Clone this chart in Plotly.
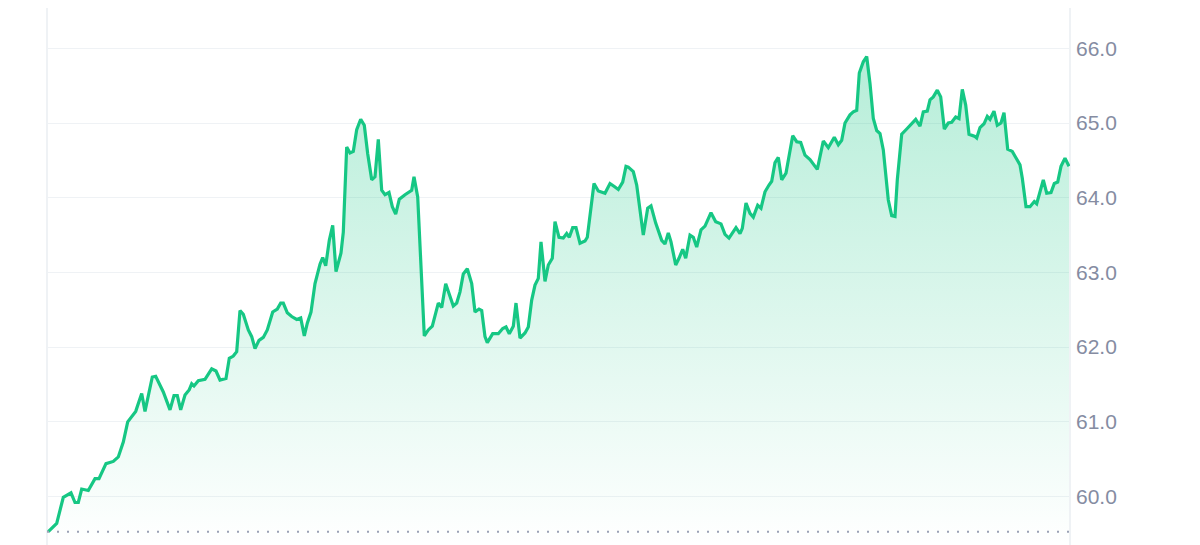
import plotly.graph_objects as go

# time position (sample-time units along the day) and price readings
t = [0.3, 8.7, 15.3, 23, 27, 30.3, 33.7, 40.3, 47, 51, 58, 65.3, 70.3, 75.3, 79.7, 83.7, 87.7, 93.7, 97,
     104.3, 107.7, 115.3, 122, 126, 129.3, 132.7, 137, 141.3, 143.7, 146,
     150.3, 157, 163.7, 168, 172, 178, 181.3, 185.3, 188.7, 192, 195.3, 200.3, 203.7, 207, 211, 215.3,
     219.3, 224.7, 229.3, 232.7, 235.3, 239.3, 243.7, 248.7, 252.7, 256.3, 259.3, 263, 267, 272, 274.7,
     277.7, 281.3, 284.7, 288, 293, 295.3, 298.7, 302, 305.3, 308.7, 312.7, 316.3, 319.7, 323.7, 327,
     330.3, 333.7, 337, 341, 344.3, 347.7, 351.3, 357, 361, 363.7, 366, 369.7, 376.3, 380.3, 384.3,
     390.3, 393.7, 397.7, 405.3, 408.7, 412, 415.3, 419.3, 423.7, 427, 431, 433.7, 437, 439.3, 444.7,
     450.3, 454.7, 458, 461.3, 465.3, 468, 472, 477, 480.3, 483.7, 487, 490.3, 493, 497, 500.3, 504.3,
     507, 511, 515.3, 518.7, 521.3, 524.7, 528, 532, 537, 539.3, 546, 550.3, 557, 562, 566.3, 570.3,
     574.7, 578, 580.3, 585.3, 588.7, 595.3, 599.7, 603, 607.7, 613.7, 617, 620.3, 623, 627.7, 631,
     634.7, 637.7, 642, 645.3, 648.7, 653, 657, 663, 667.7, 673, 677, 681, 688, 692, 694.3, 698, 702,
     705.3, 709.7, 713, 717, 721, 723.7, 727, 730.3, 733.7, 738, 744.7, 748.7, 752.7, 757, 762, 765.3,
     769.3, 775.3, 780.3, 786.3, 790.3, 793.7, 797, 802, 805.3, 808.7, 811.3, 815.3, 818.7, 822, 825.3,
     828.7, 832, 835.3, 840.3, 843.7, 847, 849.3, 853.7, 858.7, 863.7, 867.7, 872, 875.3, 879.3, 882,
     885.3, 889.3, 892.7, 896.3, 900.3, 903.7, 907.7, 911, 914.3, 917.7, 921, 927, 928.7, 932, 936,
     939.3, 942, 946, 949.3, 953, 956, 959.7, 964.3, 972, 974.3, 978, 982, 986.3, 988.7, 995.3, 998.7,
     1003, 1006.3, 1009.7, 1013, 1017, 1021]

price = [59.53, 59.64, 59.99, 60.05, 59.92, 59.92, 60.10, 60.08, 60.24, 60.24, 60.44, 60.47, 60.53, 60.73,
         61.00, 61.07, 61.14, 61.38, 61.14, 61.60, 61.61, 61.40, 61.16, 61.35, 61.35, 61.16, 61.36, 61.43,
         61.51, 61.48,
         61.55, 61.57, 61.71, 61.68, 61.56, 61.58, 61.85, 61.88, 61.94, 62.49, 62.44, 62.23, 62.14, 61.98,
         62.09, 62.13, 62.23, 62.47, 62.51, 62.59, 62.59, 62.46, 62.41, 62.37, 62.39, 62.15, 62.32, 62.47,
         62.85, 63.11, 63.20, 63.09, 63.43, 63.63, 63.01, 63.26, 63.54, 64.68, 64.60, 64.62, 64.91, 65.05,
         64.97, 64.59, 64.24, 64.28, 64.78, 64.10, 64.04, 64.07, 63.88, 63.78, 63.98, 64.04, 64.08, 64.10,
         64.28, 64.01, 62.15, 62.23, 62.28, 62.59, 62.53, 62.85, 62.55, 62.59, 62.74, 62.98, 63.05, 62.85,
         62.47, 62.51, 62.49, 62.14, 62.06, 62.18, 62.18, 62.25, 62.27, 62.18, 62.28, 62.59, 62.12, 62.19,
         62.27, 62.63, 62.83, 62.92, 63.41, 62.88, 63.10, 63.19, 63.68, 63.47, 63.46, 63.52, 63.47, 63.60,
         63.60, 63.39, 63.42, 63.47, 64.19, 64.09, 64.06, 64.19, 64.15, 64.11, 64.21, 64.42, 64.41, 64.35,
         64.17, 63.50, 63.86, 63.89, 63.66, 63.43, 63.38, 63.53, 63.41, 63.10, 63.19, 63.31, 63.19, 63.50,
         63.47, 63.34, 63.57, 63.62, 63.80, 63.68, 63.65, 63.51, 63.46, 63.60, 63.52, 63.59, 63.93, 63.79,
         63.74, 63.90, 63.86, 64.08, 64.17, 64.22, 64.47, 64.54, 64.24, 64.33, 64.83, 64.75, 64.74, 64.57,
         64.51, 64.45, 64.38, 64.76, 64.67, 64.81, 64.71, 64.77, 65.00, 65.11, 65.15, 65.17, 65.67, 65.82,
         65.89, 65.53, 65.06, 64.90, 64.86, 64.64, 63.97, 63.76, 63.75, 64.24, 64.85, 64.92, 65.00, 65.05,
         64.96, 65.15, 65.16, 65.31, 65.35, 65.44, 65.35, 64.92, 65.00, 65.01, 65.08, 65.06, 65.45, 65.24,
         64.85, 64.82, 64.80, 64.94, 64.99, 65.09, 65.05, 65.16, 64.97, 65.00, 65.14, 64.65, 64.62, 64.44,
         64.26, 63.88, 63.88, 63.95, 63.92, 64.24, 64.06, 64.07, 64.19, 64.21, 64.42, 64.53, 64.42]

y_ticks = [60, 61, 62, 63, 64, 65, 66]
y_tick_labels = [f"{v:.1f}" for v in y_ticks]

Y_MIN, Y_MAX = 59.244, 66.54
GREEN = "#16c784"
BORDER = "#eff2f5"

fig = go.Figure()
fig.add_trace(go.Scatter(
    x=t, y=price, mode="lines",
    line=dict(color=GREEN, width=3.2),
    fill="tozeroy",
    fillgradient=dict(
        type="vertical",
        start=59.35, stop=66.0,
        colorscale=[[0, "rgba(22,199,132,0.0)"], [1, "rgba(22,199,132,0.32)"]],
    ),
    hoverinfo="skip",
    showlegend=False,
))

# opening-price reference line (dotted)
fig.add_shape(type="line", xref="paper", x0=0, x1=1, yref="y", y0=price[0], y1=price[0],
              line=dict(color="#9aa1b5", width=2, dash="2px,8px"), layer="above")

# left and right frame lines running the full height
for xp in (0, 1):
    fig.add_shape(type="line", xref="paper", x0=xp, x1=xp, yref="paper", y0=-0.03, y1=1.03,
                  line=dict(color=BORDER, width=2), layer="below")

fig.update_layout(
    width=1200, height=545,
    margin=dict(l=39, r=138, t=0, b=0, pad=0),
    paper_bgcolor="white", plot_bgcolor="white",
    xaxis=dict(range=[-1, 1022], visible=False, fixedrange=True),
    yaxis=dict(
        range=[Y_MIN, Y_MAX], side="right",
        tickvals=y_ticks, ticktext=y_tick_labels,
        tickfont=dict(family="Liberation Sans, Arial, sans-serif", size=21, color="#858ca2"),
        ticks="", ticklabelstandoff=5,
        showgrid=True, gridcolor=BORDER, gridwidth=1,
        showline=False,
        zeroline=False, fixedrange=True,
    ),
)

fig.write_html("out.html")
